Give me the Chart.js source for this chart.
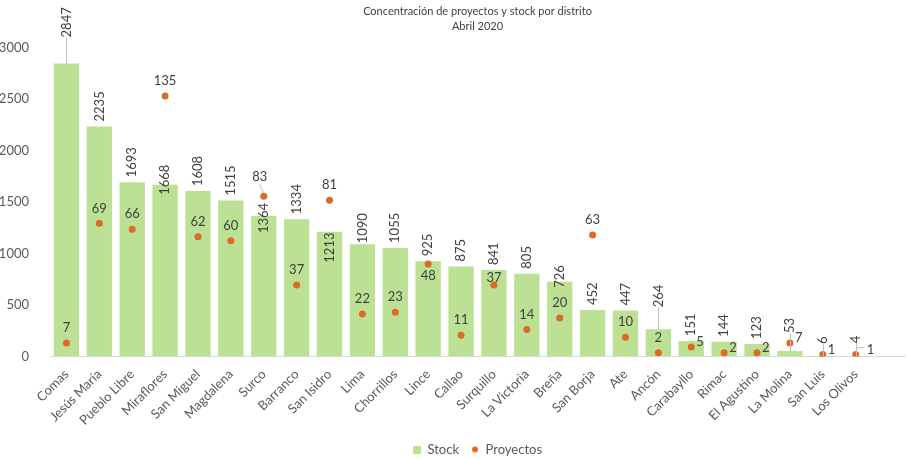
<!DOCTYPE html>
<html>
<head>
<meta charset="utf-8">
<script src="https://cdn.jsdelivr.net/npm/chart.js@4/dist/chart.umd.min.js"></script>
<style>
html, body { margin: 0; padding: 0; background: #fff; }
#caja { width: 909px; height: 459px; position: relative; }
</style>
</head>
<body>
<div id="caja"><canvas id="myChart"></canvas></div>
<script>
// datos (el ultimo distrito vacio solo alarga el eje)
const distritos = ['Comas', 'Jesús María', 'Pueblo Libre', 'Miraflores', 'San Miguel', 'Magdalena',
  'Surco', 'Barranco', 'San Isidro', 'Lima', 'Chorrillos', 'Lince', 'Callao', 'Surquillo',
  'La Victoria', 'Breña', 'San Borja', 'Ate', 'Ancón', 'Carabayllo', 'Rimac', 'El Agustino',
  'La Molina', 'San Luis', 'Los Olivos', ''];
const stock = [2847, 2235, 1693, 1668, 1608, 1515, 1364, 1334, 1213, 1090, 1055, 925, 875, 841,
  805, 726, 452, 447, 264, 151, 144, 123, 53, 6, 4, null];
const proyectos = [7, 69, 66, 135, 62, 60, 83, 37, 81, 22, 23, 48, 11, 37, 14, 20, 63, 10, 2, 5,
  2, 2, 7, 1, 1, null];
const ticksY = [0, 500, 1000, 1500, 2000, 2500, 3000];

// ajustes de las etiquetas (como las dejo Excel)
const subirStock = [21, 0, 0, -15, 0, 0, -22, 0, -36, -4, 0, 0, 0, 0, 0, -11, 0, 0, 17, 0, 0, 0, 13, 7, 8];
const lugarProy = ['arriba', 'arriba', 'arriba', 'arriba', 'arriba', 'arriba', 'arriba', 'arriba',
  'arriba', 'arriba', 'arriba', 'abajo', 'arriba', 'arriba', 'arriba', 'arriba', 'arriba', 'arriba',
  'arriba', 'derecha', 'derecha', 'derecha', 'derecha', 'derecha', 'derecha'];
const subirProy = [0, 0, 0, 0, 0, 0, 5, 0, 0, 0, 0, 0, 0, -8, 0, 0, 0, 0, 0, 0, 0, 0, 0, 0, 6];

const verde = '#bce194';
const naranja = '#dd6b25';
const texto = '#404040';
const gris = '#595959';

function marca(tipo) {
  const c = document.createElement('canvas');
  c.width = 8; c.height = 8;
  const g = c.getContext('2d');
  if (tipo === 'rect') {
    g.fillStyle = verde;
    g.fillRect(0, 0, 8, 8);
  } else {
    g.fillStyle = naranja;
    g.beginPath();
    g.arc(4, 4, 3, 0, 2 * Math.PI);
    g.fill();
  }
  return c;
}

const etiquetas = {
  id: 'etiquetas',
  afterDatasetsDraw(chart) {
    const ctx = chart.ctx;
    ctx.save();
    ctx.font = '13px Lato';
    ctx.fillStyle = texto;
    ctx.strokeStyle = '#c0c0c0';
    ctx.lineWidth = 1;

    chart.getDatasetMeta(0).data.forEach((barra, i) => {
      if (stock[i] == null) return;
      const y0 = barra.y - 5 - subirStock[i];
      if (subirStock[i] >= 7) {
        ctx.beginPath();
        ctx.moveTo(Math.round(barra.x) + 0.5, barra.y);
        ctx.lineTo(Math.round(barra.x) + 0.5, y0);
        ctx.stroke();
      }
      ctx.save();
      ctx.translate(barra.x, y0);
      ctx.rotate(-Math.PI / 2);
      ctx.textAlign = 'left';
      ctx.textBaseline = 'middle';
      ctx.fillText(String(stock[i]), 0, 0);
      ctx.restore();
    });

    chart.getDatasetMeta(1).data.forEach((p, i) => {
      if (proyectos[i] == null) return;
      const t = String(proyectos[i]);
      ctx.textBaseline = 'middle';
      if (lugarProy[i] === 'arriba') {
        ctx.textAlign = 'center';
        const ty = p.y - 15 - subirProy[i];
        if (subirProy[i] > 3) {
          ctx.beginPath();
          ctx.moveTo(p.x - 4, ty + 8);
          ctx.lineTo(p.x, p.y - 3);
          ctx.stroke();
          ctx.fillText(t, p.x - 4, ty);
        } else {
          ctx.fillText(t, p.x, ty);
        }
      } else if (lugarProy[i] === 'abajo') {
        ctx.textAlign = 'center';
        ctx.fillText(t, p.x, p.y + 12);
      } else {
        ctx.textAlign = 'left';
        const tx = p.x + 5 + subirProy[i];
        if (subirProy[i] > 3) {
          ctx.beginPath();
          ctx.moveTo(p.x, p.y - 3);
          ctx.lineTo(p.x + 2, p.y - 7);
          ctx.lineTo(tx - 2, p.y - 7);
          ctx.stroke();
        }
        ctx.fillText(t, tx, p.y - 5);
      }
    });
    ctx.restore();
  }
};

Chart.defaults.font.family = 'Lato';
Chart.defaults.font.size = 13;
Chart.defaults.color = gris;

const data = {
  labels: distritos,
  datasets: [{
    type: 'bar',
    label: 'Stock',
    data: stock,
    backgroundColor: verde,
    barPercentage: 0.77,
    categoryPercentage: 1,
    yAxisID: 'y',
    order: 2
  }, {
    type: 'line',
    label: 'Proyectos',
    data: proyectos,
    showLine: false,
    pointRadius: 3.5,
    pointBackgroundColor: naranja,
    pointBorderWidth: 0,
    yAxisID: 'y1',
    order: 1
  }]
};

const config = {
  data: data,
  options: {
    responsive: true,
    maintainAspectRatio: false,
    animation: false,
    layout: { padding: { top: 0, right: 1, bottom: -7, left: 0 } },
    scales: {
      x: {
        grid: { display: false },
        border: { display: true, color: '#d9d9d9' },
        afterFit: (s) => { s.height += 1; },
        ticks: { minRotation: 45, maxRotation: 45, autoSkip: false, color: gris, padding: 2 }
      },
      y: {
        min: 0,
        max: 3000,
        grid: { display: false },
        border: { display: false },
        afterBuildTicks: (s) => { s.ticks = ticksY.map(v => ({ value: v })); },
        afterFit: (s) => { s.width = 50; },
        ticks: { color: gris, padding: 13, callback: (v) => String(v) }
      },
      y1: {
        min: 0,
        max: 160,
        display: false
      }
    },
    plugins: {
      tooltip: { enabled: false },
      title: {
        display: true,
        fullSize: false,
        text: ['Concentración de proyectos y stock por distrito', 'Abril 2020'],
        color: texto,
        font: { size: 11, weight: 'normal', lineHeight: 1.35 },
        padding: { top: 4, bottom: 14 }
      },
      legend: {
        position: 'bottom',
        fullSize: false,
        labels: {
          usePointStyle: true,
          pointStyleWidth: 8,
          boxHeight: 8,
          padding: 12,
          color: gris,
          generateLabels: (chart) => [
            { text: 'Stock', pointStyle: marca('rect'), fontColor: gris, datasetIndex: 0, lineWidth: 0 },
            { text: 'Proyectos', pointStyle: marca('circle'), fontColor: gris, datasetIndex: 1, lineWidth: 0 }
          ]
        }
      }
    }
  },
  plugins: [etiquetas]
};

const myChart = new Chart(document.getElementById('myChart'), config);
</script>
</body>
</html>
